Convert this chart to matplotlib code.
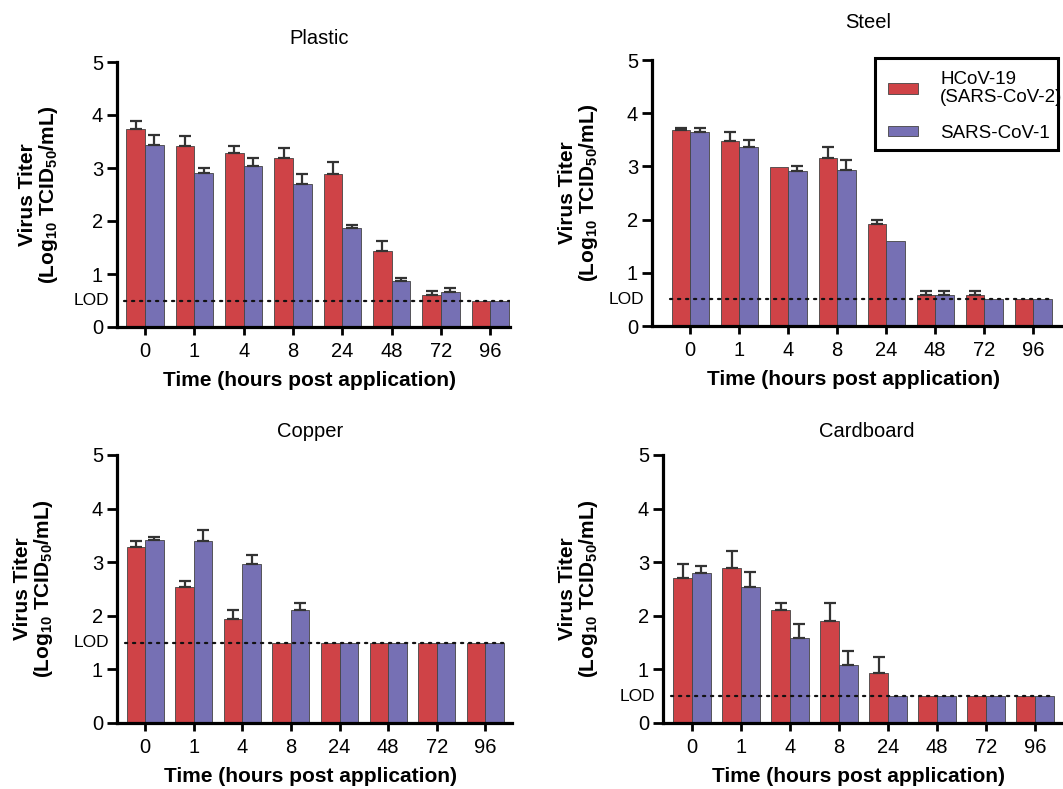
import numpy as np
import matplotlib
matplotlib.use('Agg')
from matplotlib import pyplot as plt
from matplotlib.patches import Patch, Rectangle

plt.rcParams['font.family'] = ['Liberation Sans', 'DejaVu Sans']
plt.rcParams['mathtext.fontset'] = 'custom'
plt.rcParams['mathtext.rm'] = 'Liberation Sans'
plt.rcParams['mathtext.bf'] = 'Liberation Sans:bold'

# time points (hours post application)
hours = ['0', '1', '4', '8', '24', '48', '72', '96']
series_names = ['HCoV-19\n(SARS-CoV-2)', 'SARS-CoV-1']

# mean titers and upper error
plastic_cov2 = [3.73, 3.41, 3.28, 3.19, 2.89, 1.44, 0.60, 0.50]
plastic_cov2_err = [0.16, 0.19, 0.13, 0.19, 0.22, 0.18, 0.07, 0.0]
plastic_cov1 = [3.44, 2.91, 3.04, 2.69, 1.86, 0.87, 0.66, 0.50]
plastic_cov1_err = [0.19, 0.09, 0.14, 0.19, 0.07, 0.05, 0.08, 0.0]

steel_cov2 = [3.68, 3.48, 2.98, 3.16, 1.92, 0.58, 0.58, 0.50]
steel_cov2_err = [0.05, 0.16, 0.0, 0.21, 0.08, 0.08, 0.08, 0.0]
steel_cov1 = [3.64, 3.37, 2.92, 2.94, 1.59, 0.58, 0.50, 0.50]
steel_cov1_err = [0.09, 0.13, 0.08, 0.18, 0.0, 0.08, 0.0, 0.0]

copper_cov2 = [3.29, 2.53, 1.94, 1.50, 1.50, 1.50, 1.50, 1.50]
copper_cov2_err = [0.11, 0.12, 0.17, 0.0, 0.0, 0.0, 0.0, 0.0]
copper_cov1 = [3.41, 3.39, 2.96, 2.11, 1.50, 1.50, 1.50, 1.50]
copper_cov1_err = [0.06, 0.21, 0.18, 0.13, 0.0, 0.0, 0.0, 0.0]

card_cov2 = [2.70, 2.90, 2.11, 1.91, 0.94, 0.50, 0.50, 0.50]
card_cov2_err = [0.26, 0.31, 0.13, 0.32, 0.29, 0.0, 0.0, 0.0]
card_cov1 = [2.80, 2.53, 1.58, 1.09, 0.50, 0.50, 0.50, 0.50]
card_cov1_err = [0.12, 0.29, 0.26, 0.26, 0.0, 0.0, 0.0, 0.0]

lod_plastic = 0.5
lod_steel = 0.5
lod_copper = 1.5
lod_card = 0.5

RED = '#cf4347'
BLUE = '#7670b4'
W, H = 1063, 789


def px_axes(fig, left, right, top, bottom):
    # place an axes from pixel coords
    return fig.add_axes([left / W, 1 - bottom / H, (right - left) / W, (bottom - top) / H])


def panel(ax, title, red, red_err, blue, blue_err, lod, xlim, title_xy, ylab_x):
    x = np.arange(len(hours))
    bw = 0.38
    ax.bar(x, red, width=-bw, align='edge', color=RED, edgecolor='#444444', linewidth=0.6, zorder=2)
    ax.bar(x, blue, width=bw, align='edge', color=BLUE, edgecolor='#444444', linewidth=0.6, zorder=2)
    # only upper error bars
    re = np.array(red_err); be = np.array(blue_err)
    mr = re > 0; mb = be > 0
    ax.errorbar(x[mr] - bw / 2, np.array(red)[mr], yerr=[np.zeros(mr.sum()), re[mr]], fmt='none',
                ecolor='#333333', elinewidth=1.6, capsize=4.5, capthick=1.6, zorder=3)
    ax.errorbar(x[mb] + bw / 2, np.array(blue)[mb], yerr=[np.zeros(mb.sum()), be[mb]], fmt='none',
                ecolor='#333333', elinewidth=1.6, capsize=4.5, capthick=1.6, zorder=3)
    ax.plot([-0.42, len(hours) - 0.6], [lod, lod], color='#111111', lw=1.6,
            linestyle=(0, (1, 2.6)), dash_capstyle='round', zorder=4)
    ax.text(-0.02, lod, 'LOD', transform=ax.get_yaxis_transform(), ha='right', va='center', fontsize=12.5)

    ax.set_xlim(*xlim)
    ax.set_ylim(0, 5)
    ax.set_yticks([0, 1, 2, 3, 4, 5])
    ax.set_xticks(x)
    ax.set_xticklabels(hours)
    for s in ['top', 'right']:
        ax.spines[s].set_visible(False)
    for s in ['left', 'bottom']:
        ax.spines[s].set_linewidth(2.3)
    ax.tick_params(axis='y', direction='out', length=7, width=2, labelsize=14.5, pad=3)
    ax.tick_params(axis='x', direction='out', length=6, width=2, labelsize=14.5, pad=5)

    ax.set_xlabel('Time (hours post application)', fontsize=15, fontweight='bold')
    ax.xaxis.set_label_coords(0.49, -0.165)
    ax.set_ylabel('Virus Titer\n(Log$_{\\mathbf{10}}$ TCID$_{\\mathbf{50}}$/mL)', fontsize=15,
                  fontweight='bold', linespacing=1.0)
    ax.yaxis.set_label_coords(ylab_x, 0.5)
    ax.text(title_xy[0], title_xy[1], title, transform=ax.transAxes, ha='center', va='center', fontsize=14.5)


fig = plt.figure(figsize=(W / 100, H / 100), dpi=100)

ax1 = px_axes(fig, 117, 510, 62, 327)
panel(ax1, 'Plastic', plastic_cov2, plastic_cov2_err, plastic_cov1, plastic_cov1_err,
      lod_plastic, (-0.57, 7.40), (0.515, 1.09), -0.145)

ax2 = px_axes(fig, 652, 1063, 60, 326)
panel(ax2, 'Steel', steel_cov2, steel_cov2_err, steel_cov1, steel_cov1_err,
      lod_steel, (-0.78, 7.61), (0.525, 1.14), -0.127)

ax3 = px_axes(fig, 117, 512, 455, 723)
panel(ax3, 'Copper', copper_cov2, copper_cov2_err, copper_cov1, copper_cov1_err,
      lod_copper, (-0.58, 7.55), (0.49, 1.086), -0.157)

ax4 = px_axes(fig, 663, 1063, 455, 723)
panel(ax4, 'Cardboard', card_cov2, card_cov2_err, card_cov1, card_cov1_err,
      lod_card, (-0.59, 7.57), (0.51, 1.086), -0.158)

handles = [Patch(facecolor=RED, edgecolor='#444444', linewidth=0.6),
           Patch(facecolor=BLUE, edgecolor='#444444', linewidth=0.6)]
leg = fig.legend(handles, series_names, loc='upper left', bbox_to_anchor=(879 / W, 1 - 62 / H),
                 fontsize=13.5, frameon=False, borderaxespad=0,
                 handlelength=1.6, handleheight=0.45, handletextpad=1.17, labelspacing=1.0,
                 borderpad=0.5)
for t in leg.get_texts():
    t.set_linespacing(1.05)
# the box in the original is narrower than its text, so draw it separately
fig.patches.append(Rectangle((875 / W, 1 - 150 / H), 183 / W, 92 / H, transform=fig.transFigure,
                             fill=False, edgecolor='black', linewidth=2.2))

fig.savefig('out.png', dpi=100)
